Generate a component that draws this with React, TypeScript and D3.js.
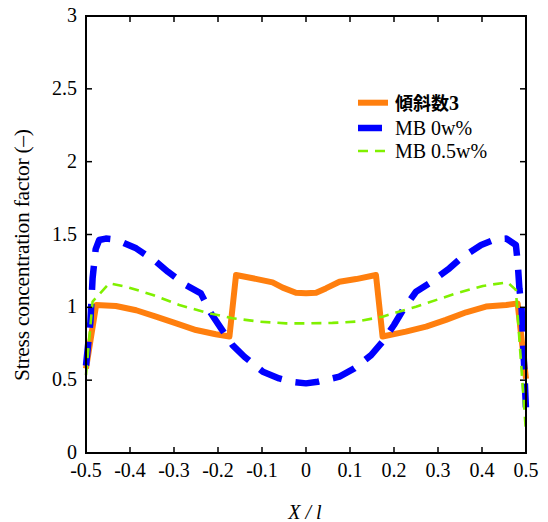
import React from "react";
import * as d3 from "d3";

const xTicks = [-0.5, -0.4, -0.3, -0.2, -0.1, 0, 0.1, 0.2, 0.3, 0.4, 0.5];
const xTickLabels = ["-0.5", "-0.4", "-0.3", "-0.2", "-0.1", "0", "0.1", "0.2", "0.3", "0.4", "0.5"];
const yTicks = [0, 0.5, 1, 1.5, 2, 2.5, 3];
const yTickLabels = ["0", "0.5", "1", "1.5", "2", "2.5", "3"];

const seriesNames = ["傾斜数3", "MB 0w%", "MB 0.5w%"];

const gradedX = [-0.5, -0.477, -0.432, -0.386, -0.341, -0.295, -0.25, -0.205, -0.174, -0.159, -0.121, -0.076, -0.053, -0.023, 0, 0.023, 0.045, 0.076, 0.114, 0.159, 0.174, 0.227, 0.273, 0.318, 0.364, 0.409, 0.455, 0.481, 0.5];
const gradedY = [0.58, 1.016, 1.009, 0.98, 0.936, 0.89, 0.844, 0.815, 0.8, 1.222, 1.2, 1.171, 1.135, 1.1, 1.096, 1.1, 1.13, 1.176, 1.194, 1.222, 0.8, 0.833, 0.868, 0.914, 0.966, 1.005, 1.016, 1.027, 0.51];

const mb0X = [-0.5, -0.49, -0.485, -0.478, -0.47, -0.455, -0.443, -0.42, -0.386, -0.341, -0.314, -0.273, -0.239, -0.216, -0.193, -0.167, -0.14, -0.098, -0.061, -0.03, 0, 0.027, 0.076, 0.11, 0.148, 0.174, 0.2, 0.22, 0.25, 0.28, 0.326, 0.352, 0.398, 0.432, 0.455, 0.477, 0.481, 0.485, 0.49, 0.496, 0.5];
const mb0Y = [0.6, 0.9, 1.2, 1.4, 1.462, 1.472, 1.468, 1.45, 1.405, 1.313, 1.245, 1.153, 1.096, 0.959, 0.856, 0.741, 0.661, 0.558, 0.512, 0.488, 0.478, 0.489, 0.524, 0.581, 0.672, 0.764, 0.879, 0.98, 1.107, 1.165, 1.268, 1.337, 1.428, 1.469, 1.472, 1.428, 1.313, 1.13, 0.99, 0.58, 0.3];

const mb05X = [-0.5, -0.485, -0.447, -0.409, -0.348, -0.288, -0.227, -0.167, -0.106, -0.045, 0, 0.06, 0.114, 0.174, 0.25, 0.341, 0.402, 0.458, 0.477, 0.5];
const mb05Y = [0.535, 1.04, 1.165, 1.142, 1.085, 1.016, 0.964, 0.925, 0.902, 0.89, 0.89, 0.893, 0.902, 0.936, 1.004, 1.096, 1.147, 1.172, 1.12, 0.14];

const W = 548;
const H = 522;
const left = 86;
const right = 526;
const top = 16;
const bottom = 453;

const serif = "'Liberation Serif', 'Times New Roman', 'DejaVu Serif', serif";
const cjk = "'Noto Sans CJK JP', 'Noto Sans CJK SC', sans-serif";

export default function App() {
  const x = d3.scaleLinear().domain([-0.5, 0.5]).range([left, right]);
  const y = d3.scaleLinear().domain([0, 3]).range([bottom, top]);
  const line = d3
    .line<[number, number]>()
    .x((d) => x(d[0]))
    .y((d) => y(d[1]));

  const graded = gradedX.map((v, i) => [v, gradedY[i]] as [number, number]);
  const mb0 = mb0X.map((v, i) => [v, mb0Y[i]] as [number, number]);
  const mb05 = mb05X.map((v, i) => [v, mb05Y[i]] as [number, number]);

  const series = [
    { data: graded, color: "#ff7f0e", width: 6, dash: "none" },
    { data: mb0, color: "#0000ff", width: 6.5, dash: "24 14" },
    { data: mb05, color: "#80f000", width: 2.6, dash: "10 7" },
  ];

  const tickLen = 6;
  const legX1 = 358;
  const legX2 = 388;
  const legY = [102.7, 128, 151];

  return (
    <svg
      width={W}
      height={H}
      style={{ position: "absolute", left: 0, top: 0, background: "#fff" }}
      fontFamily={serif}
    >
      <rect x={0} y={0} width={W} height={H} fill="#fff" />
      {series.map((s, i) => (
        <path
          key={i}
          d={line(s.data) || ""}
          fill="none"
          stroke={s.color}
          strokeWidth={s.width}
          strokeDasharray={s.dash}
          strokeLinejoin="round"
        />
      ))}
      <rect x={left} y={top} width={right - left} height={bottom - top} fill="none" stroke="#000" strokeWidth={2} />
      {xTicks.map((t, i) => (
        <g key={"xt" + i}>
          <line x1={x(t)} x2={x(t)} y1={bottom} y2={bottom - tickLen} stroke="#000" strokeWidth={1.5} />
          <line x1={x(t)} x2={x(t)} y1={top} y2={top + tickLen} stroke="#000" strokeWidth={1.5} />
          <text x={x(t)} y={477} fontSize={20} textAnchor="middle" fill="#000">
            {xTickLabels[i]}
          </text>
        </g>
      ))}
      {yTicks.map((t, i) => (
        <g key={"yt" + i}>
          <line x1={left} x2={left + tickLen} y1={y(t)} y2={y(t)} stroke="#000" strokeWidth={1.5} />
          <line x1={right} x2={right - tickLen} y1={y(t)} y2={y(t)} stroke="#000" strokeWidth={1.5} />
          <text x={77} y={y(t) + 6} fontSize={20} textAnchor="end" fill="#000">
            {yTickLabels[i]}
          </text>
        </g>
      ))}
      <text x={305} y={519} fontSize={20} fontStyle="italic" textAnchor="middle" fill="#000">
        X / l
      </text>
      <text
        transform="translate(29,255) rotate(-90)"
        fontSize={21.5}
        textAnchor="middle"
        textLength={252}
        lengthAdjust="spacing"
        fill="#000"
      >
        Stress concentration factor (–)
      </text>
      {series.map((s, i) => (
        <g key={"lg" + i}>
          <line
            x1={legX1}
            x2={legX2}
            y1={legY[i]}
            y2={legY[i]}
            stroke={s.color}
            strokeWidth={s.width}
            strokeDasharray={s.dash}
          />
          {i === 0 ? (
            <text x={395} y={legY[i] + 7} fontSize={20} fill="#000" fontWeight="bold">
              <tspan fontFamily={cjk} fontSize={18}>{seriesNames[0].slice(0, 3)}</tspan>
              <tspan>{seriesNames[0].slice(3)}</tspan>
            </text>
          ) : (
            <text x={395} y={legY[i] + 7} fontSize={20} fill="#000">
              {seriesNames[i]}
            </text>
          )}
        </g>
      ))}
    </svg>
  );
}
